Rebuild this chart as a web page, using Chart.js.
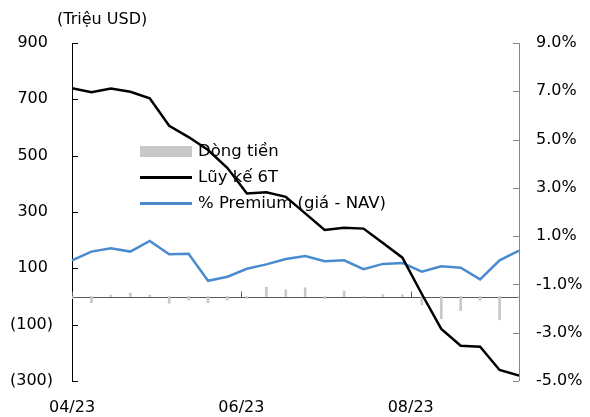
<!DOCTYPE html>
<html>
<head>
<meta charset="utf-8">
<script src="https://cdn.jsdelivr.net/npm/chart.js@4.4.0/dist/chart.umd.min.js"></script>
<style>
  html, body { margin: 0; padding: 0; background: #fff; }
  #wrap { width: 590px; height: 417px; }
</style>
</head>
<body>
<div id="wrap"><canvas id="fundChart" width="590" height="417"></canvas></div>
<script>
// weekly observations
const weeks = [
  "2023-04-01", "2023-04-08", "2023-04-15", "2023-04-22", "2023-04-29",
  "2023-05-06", "2023-05-13", "2023-05-20", "2023-05-27", "2023-06-03",
  "2023-06-10", "2023-06-17", "2023-06-24", "2023-07-01", "2023-07-08",
  "2023-07-15", "2023-07-22", "2023-07-29", "2023-08-05", "2023-08-12",
  "2023-08-19", "2023-08-26", "2023-09-02", "2023-09-09",
];
// Dòng tiền (triệu USD)
const flows = [
  -8, -22, 5, 12, 5, -24, -12, -22, -12, -7, 33, 24,
  31, -8, 19, -2, 6, 6, -30, -79, -50, -14, -83, -5,
];
// Lũy kế 6T (triệu USD)
const cumulative = [
  739, 725, 738, 727, 704, 606, 566, 520, 456, 366, 370, 354,
  295, 236, 244, 241, 190, 138, 9, -115, -175, -178, -261, -281,
];
// % Premium (giá - NAV)
const premium = [
  0.0, 0.36, 0.5, 0.36, 0.8, 0.25, 0.27, -0.85, -0.68, -0.35, -0.17, 0.05,
  0.18, -0.04, 0.0, -0.37, -0.15, -0.11, -0.47, -0.25, -0.31, -0.79, 0.0, 0.4,
];
const xTickLabels = ["04/23", "06/23", "08/23"];
const legendLabels = ["Dòng tiền", "Lũy kế 6T", "% Premium (giá - NAV)"];

const FONT = "'DejaVu Sans', Verdana, sans-serif";
const DAY = 86400000;
const start = Date.parse(weeks[0]);
const dayOf = (d) => Math.round((Date.parse(d) - start) / DAY);
const tickDay = (lbl) => {
  const [m, y] = lbl.split("/");
  return dayOf(`20${y}-${m}-01`);
};
const pts = (vals) => vals.map((v, i) => ({ x: dayOf(weeks[i]), y: v }));

const colors = { bar: "#c8c8c8", cum: "#000000", prem: "#4a8bd0" };

const decorations = {
  id: "decorations",
  beforeDatasetsDraw(chart) {
    const { ctx, chartArea: a, scales } = chart;
    const y = scales.y, y1 = scales.y1, x = scales.x;
    ctx.save();
    // left axis
    ctx.strokeStyle = "#000";
    ctx.lineWidth = 1;
    ctx.beginPath();
    ctx.moveTo(a.left + 0.5, a.top);
    ctx.lineTo(a.left + 0.5, a.bottom);
    y.ticks.forEach((t) => {
      const py = Math.round(y.getPixelForValue(t.value)) + 0.5;
      ctx.moveTo(a.left, py);
      ctx.lineTo(a.left + 6, py);
    });
    ctx.stroke();
    // right axis
    ctx.strokeStyle = "#868686";
    ctx.beginPath();
    ctx.moveTo(a.right + 0.5, a.top);
    ctx.lineTo(a.right + 0.5, a.bottom);
    y1.ticks.forEach((t) => {
      const py = Math.round(y1.getPixelForValue(t.value)) + 0.5;
      ctx.moveTo(a.right, py);
      ctx.lineTo(a.right - 6, py);
    });
    ctx.stroke();
    // zero line with month ticks
    const zy = Math.round(y.getPixelForValue(0)) + 0.5;
    ctx.strokeStyle = "#595959";
    ctx.beginPath();
    ctx.moveTo(a.left, zy);
    ctx.lineTo(a.right, zy);
    x.ticks.forEach((t) => {
      const px = Math.round(x.getPixelForValue(t.value)) + 0.5;
      ctx.moveTo(px, zy);
      ctx.lineTo(px, zy - 6);
    });
    ctx.stroke();
    // unit label
    ctx.fillStyle = "#000";
    ctx.font = `16px ${FONT}`;
    ctx.textBaseline = "middle";
    ctx.textAlign = "left";
    ctx.fillText("(Triệu USD)", 57, 20);
    // legend
    const lx = 140, lw = 52, tx = 198;
    const rows = [151.5, 177.5, 203.5];
    ctx.fillStyle = colors.bar;
    ctx.fillRect(lx, rows[0] - 5.5, lw, 11);
    ctx.lineWidth = 3;
    ctx.strokeStyle = colors.cum;
    ctx.beginPath();
    ctx.moveTo(lx, rows[1]);
    ctx.lineTo(lx + lw, rows[1]);
    ctx.stroke();
    ctx.strokeStyle = colors.prem;
    ctx.beginPath();
    ctx.moveTo(lx, rows[2]);
    ctx.lineTo(lx + lw, rows[2]);
    ctx.stroke();
    ctx.fillStyle = "#000";
    ctx.font = `16.5px ${FONT}`;
    legendLabels.forEach((l, i) => ctx.fillText(l, tx, rows[i]));
    ctx.restore();
  },
};

const ctx = document.getElementById("fundChart");
const myChart = new Chart(ctx, {
  type: "bar",
  data: {
    datasets: [
      {
        type: "line",
        label: legendLabels[1],
        data: pts(cumulative),
        borderColor: colors.cum,
        borderWidth: 2.5,
        pointRadius: 0,
        tension: 0,
        yAxisID: "y",
        order: 1,
      },
      {
        type: "line",
        label: legendLabels[2],
        data: pts(premium),
        borderColor: colors.prem,
        borderWidth: 2.5,
        pointRadius: 0,
        tension: 0,
        yAxisID: "y1",
        order: 2,
      },
      {
        type: "bar",
        label: legendLabels[0],
        data: pts(flows),
        backgroundColor: colors.bar,
        barThickness: 2,
        yAxisID: "y",
        order: 3,
      },
    ],
  },
  options: {
    responsive: false,
    animation: false,
    events: [],
    layout: { padding: { top: 43, left: 0, right: 0, bottom: 0 } },
    plugins: { legend: { display: false }, tooltip: { enabled: false } },
    scales: {
      x: {
        type: "linear",
        offset: false,
        min: 0,
        max: dayOf(weeks[weeks.length - 1]),
        grid: { display: false, drawTicks: false, offset: false },
        border: { display: false },
        afterBuildTicks: (s) => {
          s.ticks = xTickLabels.map((l) => ({ value: tickDay(l) }));
        },
        afterFit: (s) => { s.height = 36; },
        ticks: {
          autoSkip: false,
          maxRotation: 0,
          padding: 17,
          color: "#000",
          font: { family: FONT, size: 16 },
          callback: (v) => xTickLabels[xTickLabels.findIndex((l) => tickDay(l) === v)],
        },
      },
      y: {
        position: "left",
        min: -300,
        max: 900,
        grid: { display: false, drawTicks: false },
        border: { display: false },
        afterFit: (s) => { s.width = 72; },
        ticks: {
          stepSize: 200,
          padding: 19,
          color: "#000",
          font: { family: FONT, size: 16 },
          callback: (v) => (v < 0 ? `(${-v})` : `${v} `),
        },
      },
      y1: {
        position: "right",
        min: -5,
        max: 9,
        grid: { display: false, drawTicks: false },
        border: { display: false },
        afterFit: (s) => { s.width = 71; },
        ticks: {
          stepSize: 2,
          padding: 17,
          color: "#000",
          font: { family: FONT, size: 16 },
          callback: (v) => `${v.toFixed(1)}%`,
        },
      },
    },
  },
  plugins: [decorations],
});
</script>
</body>
</html>
